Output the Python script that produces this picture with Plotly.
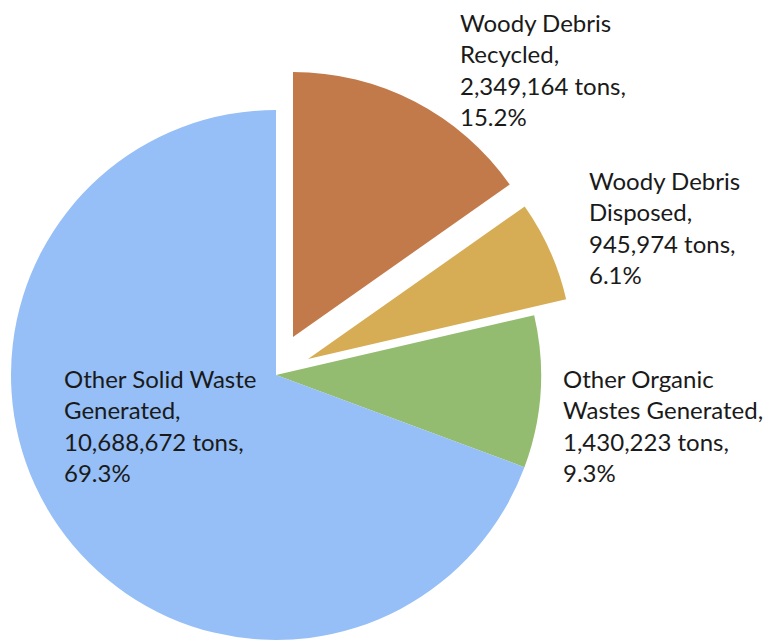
import plotly.graph_objects as go

# Waste stream tonnages
categories = ["Other Solid Waste Generated", "Other Organic Wastes Generated",
              "Woody Debris Disposed", "Woody Debris Recycled"]
label_lines = [["Other Solid Waste", "Generated,"],
               ["Other Organic", "Wastes Generated,"],
               ["Woody Debris", "Disposed,"],
               ["Woody Debris", "Recycled,"]]
tons = [10688672, 1430223, 945974, 2349164]

colors = ["#95bff6", "#93bc70", "#d6ad55", "#c27a4a"]
total = sum(tons)

W, H = 767, 641
R = 265  # pie radius in px


def px_domain(cx, cy):
    """Square domain of radius R centred on pixel (cx, cy)."""
    return dict(x=[(cx - R) / W, (cx + R) / W],
                y=[(H - cy - R) / H, (H - cy + R) / H])


# each layer shows some slices; the remaining ones are transparent
layers = [
    ((276, 375), [0, 1]),   # main body: solid waste + organic
    ((308, 359), [2]),      # disposed, exploded
    ((293, 337), [3]),      # recycled, exploded
]

# slices are laid out clockwise from 12 o'clock in reverse order
order = list(range(len(tons)))[::-1]

fig = go.Figure()
for (cx, cy), shown in layers:
    fig.add_trace(go.Pie(
        labels=[categories[i] for i in order],
        values=[tons[i] for i in order], sort=False,
        direction="clockwise", rotation=0,
        marker=dict(colors=[colors[i] if i in shown else "rgba(0,0,0,0)"
                            for i in order],
                    line=dict(width=0)),
        textinfo="none", hoverinfo="skip", showlegend=False,
        domain=px_domain(cx, cy),
    ))

# label anchors: left x and first-line y in px
label_pos = [(62, 378), (561, 378), (587, 180), (458, 22)]
pitch = 31.5
for i, (x0, y0) in enumerate(label_pos):
    lines = label_lines[i] + [f"{tons[i]:,} tons,", f"{tons[i] / total * 100:.1f}%"]
    for k, line in enumerate(lines):
        fig.add_annotation(
            text=line, x=x0 / W, y=(H - (y0 + k * pitch)) / H,
            xref="paper", yref="paper", xanchor="left", yanchor="middle",
            showarrow=False, align="left",
            font=dict(family="Lato", size=24, color="#1a1a1a"))

fig.update_layout(width=W, height=H, autosize=False,
                  margin=dict(l=0, r=0, t=0, b=0),
                  paper_bgcolor="white", plot_bgcolor="white")
fig.write_html("out.html")
